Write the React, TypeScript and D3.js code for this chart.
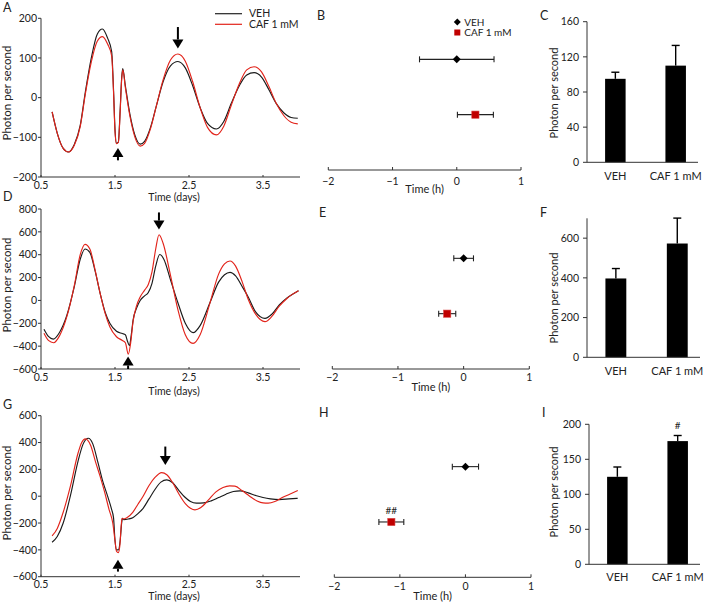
import React from "react";
import * as d3 from "d3";

const FONT = "Lato, 'Open Sans', 'DejaVu Sans', sans-serif";
const INK = "#222";
const LINE_RED = "#e2231a";
const MARK_RED = "#c00000";

const groups = ["VEH", "CAF 1 mM"];

// ---------- Time courses (days, photon per second) ----------
const tA = [0.65, 0.72, 0.8, 0.87, 0.95, 1.03, 1.1, 1.18, 1.26, 1.33, 1.4, 1.455, 1.48, 1.5, 1.52, 1.545, 1.57, 1.59, 1.605, 1.64, 1.7, 1.77, 1.84, 1.9, 1.98, 2.06, 2.15, 2.25, 2.35, 2.45, 2.55, 2.65, 2.75, 2.87, 2.97, 3.07, 3.18, 3.28, 3.38, 3.48, 3.58, 3.68, 3.78, 3.88, 3.97];
const vehA = [-36, -90, -128, -137, -118, -70, 15, 100, 160, 173, 150, 116, 20, -80, -115, -112, -30, 50, 73, 30, -40, -95, -117, -110, -75, -20, 40, 80, 91, 75, 30, -25, -65, -79, -60, -15, 30, 57, 63, 52, 20, -15, -38, -50, -52];
const cafA = [-36, -90, -128, -137, -120, -73, 10, 90, 142, 154, 135, 105, 15, -85, -116, -113, -35, 45, 70, 25, -45, -100, -122, -115, -78, -20, 45, 95, 110, 92, 40, -25, -75, -94, -72, -20, 35, 70, 78, 65, 28, -15, -45, -62, -66];

const tDveh = [0.54, 0.6, 0.666, 0.75, 0.85, 0.95, 1.03, 1.095, 1.16, 1.23, 1.3, 1.37, 1.43, 1.52, 1.6, 1.64, 1.67, 1.695, 1.72, 1.745, 1.79, 1.84, 1.9, 1.95, 2.0, 2.05, 2.105, 2.16, 2.25, 2.35, 2.45, 2.555, 2.65, 2.78, 2.9, 2.98, 3.054, 3.13, 3.22, 3.3, 3.4, 3.527, 3.62, 3.72, 3.82, 3.9, 3.98];
const vehD = [-253, -315, -338, -280, -130, 120, 360, 450, 420, 260, 60, -110, -200, -270, -290, -300, -360, -395, -300, -170, -70, 0, 40, 70, 150, 300, 402, 360, 180, -20, -200, -282, -220, -25, 160, 225, 246, 215, 120, 30, -100, -157, -120, -40, 20, 55, 85];
const tDcaf = [0.54, 0.6, 0.67, 0.75, 0.85, 0.95, 1.03, 1.095, 1.16, 1.23, 1.3, 1.37, 1.43, 1.52, 1.6, 1.64, 1.68, 1.71, 1.745, 1.79, 1.84, 1.9, 1.95, 2.0, 2.05, 2.095, 2.15, 2.25, 2.35, 2.45, 2.555, 2.65, 2.78, 2.9, 2.98, 3.054, 3.13, 3.22, 3.3, 3.4, 3.527, 3.62, 3.72, 3.82, 3.9, 3.98];
const cafD = [-288, -350, -370, -310, -140, 130, 400, 490, 450, 270, 60, -120, -230, -318, -350, -370, -470, -380, -180, -50, 30, 90, 140, 250, 450, 575, 500, 220, -80, -300, -376, -300, -30, 230, 320, 345, 300, 160, 10, -120, -186, -140, -50, 15, 55, 85];

const tGveh = [0.65, 0.72, 0.8, 0.9, 1.0, 1.07, 1.14, 1.2, 1.27, 1.33, 1.4, 1.455, 1.48, 1.5, 1.52, 1.545, 1.57, 1.59, 1.6, 1.62, 1.68, 1.74, 1.81, 1.88, 1.96, 2.04, 2.12, 2.2, 2.28, 2.36, 2.45, 2.52, 2.6, 2.7, 2.8, 2.9, 3.0, 3.1, 3.19, 3.3, 3.4, 3.5, 3.6, 3.72, 3.85, 3.97];
const vehG = [-343, -300, -200, 10, 260, 390, 432, 390, 250, 120, 0, -100, -160, -330, -400, -400, -330, -200, -165, -175, -170, -160, -130, -90, -20, 50, 105, 122, 100, 45, -10, -40, -52, -50, -35, -10, 15, 35, 40, 25, 5, -10, -20, -25, -20, -15];
const tGcaf = [0.65, 0.72, 0.8, 0.9, 1.0, 1.05, 1.1, 1.17, 1.24, 1.3, 1.36, 1.42, 1.47, 1.5, 1.52, 1.545, 1.565, 1.58, 1.595, 1.61, 1.66, 1.74, 1.81, 1.88, 1.96, 2.04, 2.13, 2.2, 2.28, 2.36, 2.45, 2.52, 2.58, 2.66, 2.76, 2.86, 2.96, 3.05, 3.12, 3.22, 3.32, 3.42, 3.5, 3.57, 3.66, 3.76, 3.86, 3.97];
const cafG = [-296, -240, -120, 80, 320, 400, 427, 380, 250, 146, 30, -100, -200, -330, -410, -420, -370, -250, -165, -170, -160, -120, -60, 0, 80, 140, 176, 160, 100, 20, -55, -90, -102, -85, -30, 30, 65, 77, 75, 40, 0, -35, -50, -52, -40, -10, 15, 42];

const dayTicks = [0.5, 1.5, 2.5, 3.5];
const ticksA = [-200, -100, 0, 100, 200];
const ticksD = [-600, -400, -200, 0, 200, 400, 600, 800];
const ticksG = [-600, -400, -200, 0, 200, 400, 600];

// arrows: [day, from value, to value]
const arrowsA = [[2.35, 178, 124], [1.54, -158, -127]];
const arrowsD = [[2.094, 770, 620], [1.677, -600, -490]];
const arrowsG = [[2.18, 370, 232], [1.54, -562, -474]];

// ---------- Phase (h) ----------
const phaseTicks = [-2, -1, 0, 1];
const phaseB = [0, 0.29];
const phaseErrB = [0.58, 0.28];
const phaseE = [0, -0.25];
const phaseErrE = [0.15, 0.13];
const phaseH = [0, -1.13];
const phaseErrH = [0.2, 0.19];

// ---------- Amplitude ----------
const ticksC = [0, 40, 80, 120, 160];
const ampC = [95, 110];
const ampErrC = [7.5, 23];
const ticksF = [0, 200, 400, 600];
const ampF = [397, 573];
const ampErrF = [50, 128];
const ticksI = [0, 50, 100, 150, 200];
const ampI = [125, 176];
const ampErrI = [14, 8];

const fmtNum = d3.format("");
const fmtDay = d3.format(".1f");

function Arrow({ x, y1, y2 }: { x: number; y1: number; y2: number }) {
  const dir = y2 > y1 ? 1 : -1;
  const head = 9;
  const hw = 5.5;
  const base = y2 - dir * head;
  return (
    <g>
      <line x1={x} x2={x} y1={y1} y2={base} stroke="#000" strokeWidth={2} />
      <path d={`M${x - hw},${base} L${x + hw},${base} L${x},${y2} Z`} fill="#000" />
    </g>
  );
}

function Letter({ x, y, t }: { x: number; y: number; t: string }) {
  return (
    <text x={x} y={y} fontSize={12.5} fill={INK} fontFamily={FONT}>
      {t}
    </text>
  );
}

function LinePanel({ L, yDomain, yTicks, series, arrows, legend }: any) {
  const x = d3.scaleLinear().domain([0.5, 4]).range([L.x0, L.x1]);
  const y = d3.scaleLinear().domain(yDomain).range([L.yb, L.yt]);
  const line = d3
    .line<[number, number]>()
    .x((d) => x(d[0]))
    .y((d) => y(d[1]))
    .curve(d3.curveMonotoneX);
  return (
    <g fontFamily={FONT} fill={INK}>
      <line x1={L.x0} x2={L.x0} y1={L.yt} y2={L.yb} stroke="#333" />
      <line x1={L.x0} x2={L.x1} y1={L.yb} y2={L.yb} stroke="#333" />
      {yTicks.map((v: number) => (
        <g key={v}>
          <line x1={L.x0 - 3} x2={L.x0} y1={y(v)} y2={y(v)} stroke="#333" />
          <text x={L.x0 - 4} y={y(v)} dy="0.35em" textAnchor="end" fontSize={10.5}>
            {fmtNum(v)}
          </text>
        </g>
      ))}
      {dayTicks.map((v) => (
        <g key={v}>
          <line x1={x(v)} x2={x(v)} y1={L.yb} y2={L.yb - 2} stroke="#333" />
          <text x={x(v)} y={L.tickBase} textAnchor="middle" fontSize={10.5}>
            {fmtDay(v)}
          </text>
        </g>
      ))}
      <text x={(L.x0 + L.x1) / 2 + 3.5} y={L.titleBase} textAnchor="middle" fontSize={10.5}>
        Time (days)
      </text>
      <text
        transform={`translate(${L.ylx},${L.yly}) rotate(-90)`}
        textAnchor="middle"
        fontSize={11.5}
      >
        Photon per second
      </text>
      {series.map((s: any, i: number) => (
        <path
          key={i}
          d={line(s.t.map((t: number, j: number) => [t, s.v[j]]) as any) || ""}
          fill="none"
          stroke={s.color}
          strokeWidth={1.15}
        />
      ))}
      {arrows.map((a: number[], i: number) => (
        <Arrow key={i} x={x(a[0])} y1={y(a[1])} y2={y(a[2])} />
      ))}
      {legend && (
        <g>
          {groups.map((g, i) => (
            <g key={g}>
              <line
                x1={legend.x}
                x2={legend.x + 27}
                y1={legend.y + i * 10.6}
                y2={legend.y + i * 10.6}
                stroke={i === 0 ? "#222" : LINE_RED}
                strokeWidth={1.2}
              />
              <text x={legend.x + 34} y={legend.y + i * 10.6} dy="0.35em" fontSize={10.5}>
                {g}
              </text>
            </g>
          ))}
        </g>
      )}
    </g>
  );
}

function PhasePanel({ P, vals, errs, legend, mark }: any) {
  const x = d3.scaleLinear().domain([-2, 1]).range([P.x0, P.x1]);
  const y = d3.scalePoint().domain(groups).range([P.axis - 166, P.axis]).padding(1);
  return (
    <g fontFamily={FONT} fill={INK}>
      <line x1={P.x0} x2={P.x1} y1={P.axis} y2={P.axis} stroke="#333" />
      {phaseTicks.map((v) => (
        <g key={v}>
          <line x1={x(v)} x2={x(v)} y1={P.axis} y2={P.axis - 3} stroke="#333" />
          <text x={x(v)} y={P.tickBase} textAnchor="middle" fontSize={10.5}>
            {fmtNum(v)}
          </text>
        </g>
      ))}
      <text x={(P.x0 + P.x1) / 2} y={P.titleBase} textAnchor="middle" fontSize={11}>
        Time (h)
      </text>
      {groups.map((g, i) => {
        const cy = y(g) as number;
        const cx = x(vals[i]);
        const l = x(vals[i] - errs[i]);
        const r = x(vals[i] + errs[i]);
        return (
          <g key={g}>
            <line x1={l} x2={r} y1={cy} y2={cy} stroke="#222" strokeWidth={1.1} />
            <line x1={l} x2={l} y1={cy - 3} y2={cy + 3} stroke="#222" strokeWidth={1.1} />
            <line x1={r} x2={r} y1={cy - 3} y2={cy + 3} stroke="#222" strokeWidth={1.1} />
            {i === 0 ? (
              <path d={`M${cx},${cy - 4} L${cx + 4},${cy} L${cx},${cy + 4} L${cx - 4},${cy} Z`} fill="#000" />
            ) : (
              <rect x={cx - 3.6} y={cy - 3.6} width={7.2} height={7.2} fill={MARK_RED} stroke="#d84040" strokeWidth={0.6} />
            )}
            {i === 1 && mark && (
              <text x={cx} y={cy - 8} textAnchor="middle" fontSize={10}>
                {mark}
              </text>
            )}
          </g>
        );
      })}
      {legend && (
        <g>
          <path
            d={`M${legend.x},${legend.y - 3.5} L${legend.x + 3.5},${legend.y} L${legend.x},${legend.y + 3.5} L${legend.x - 3.5},${legend.y} Z`}
            fill="#000"
          />
          <text x={legend.x + 7} y={legend.y} dy="0.35em" fontSize={10}>
            {groups[0]}
          </text>
          <rect x={legend.x - 3} y={legend.y + 10.5 - 3} width={6} height={6} fill={MARK_RED} />
          <text x={legend.x + 7} y={legend.y + 10.5} dy="0.35em" fontSize={10}>
            {groups[1]}
          </text>
        </g>
      )}
    </g>
  );
}

function BarPanel({ B, domain, ticks, vals, errs, mark }: any) {
  const x = d3.scaleBand().domain(groups).range([B.x0, B.x1]).paddingInner(0.66).paddingOuter(0.25).align(0.6);
  const y = d3.scaleLinear().domain(domain).range([B.yb, B.yt]);
  const bw = x.bandwidth();
  return (
    <g fontFamily={FONT} fill={INK}>
      {groups.map((g, i) => {
        const left = x(g) as number;
        const cx = left + bw / 2;
        const top = y(vals[i]);
        const et = y(vals[i] + errs[i]);
        return (
          <g key={g}>
            <rect x={left} y={top} width={bw} height={B.yb - top} fill="#000" />
            <line x1={cx} x2={cx} y1={top} y2={et} stroke="#000" strokeWidth={1.4} />
            <line x1={cx - 4} x2={cx + 4} y1={et} y2={et} stroke="#000" strokeWidth={1.4} />
            <text x={cx} y={B.catBase} textAnchor="middle" fontSize={11}>
              {g}
            </text>
            {i === 1 && mark && (
              <text x={cx} y={et - 7} textAnchor="middle" fontSize={10}>
                {mark}
              </text>
            )}
          </g>
        );
      })}
      <line x1={B.x0} x2={B.x0} y1={B.yt} y2={B.yb} stroke="#333" />
      <line x1={B.x0} x2={B.x1} y1={B.yb} y2={B.yb} stroke="#333" />
      {ticks.map((v: number) => (
        <g key={v}>
          <line x1={B.x0 - 4} x2={B.x0} y1={y(v)} y2={y(v)} stroke="#333" />
          <text x={B.x0 - 8} y={y(v)} dy="0.35em" textAnchor="end" fontSize={10.5}>
            {fmtNum(v)}
          </text>
        </g>
      ))}
      <text transform={`translate(558,${B.yly}) rotate(-90)`} textAnchor="middle" fontSize={11}>
        Photon per second
      </text>
    </g>
  );
}

export default function App() {
  return (
    <svg
      width={709}
      height={604}
      style={{ position: "absolute", left: 0, top: 0, background: "#fff" }}
    >
      <rect width={709} height={604} fill="#fff" />
      {/* Row 1 */}
      <LinePanel
        L={{ x0: 41, x1: 300, yb: 177, yt: 18.3, tickBase: 189, titleBase: 200.5, ylx: 11, yly: 93 }}
        yDomain={[-200, 200]}
        yTicks={ticksA}
        series={[
          { t: tA, v: vehA, color: "#1a1a1a" },
          { t: tA, v: cafA, color: LINE_RED },
        ]}
        arrows={arrowsA}
        legend={{ x: 215, y: 13.7 }}
      />
      <PhasePanel
        P={{ x0: 328.3, x1: 521, axis: 170, tickBase: 185, titleBase: 193 }}
        vals={phaseB}
        errs={phaseErrB}
        legend={{ x: 457.3, y: 22 }}
      />
      <BarPanel
        B={{ x0: 587, x1: 698, yb: 162.3, yt: 21.7, catBase: 180, yly: 93 }}
        domain={[0, 160]}
        ticks={ticksC}
        vals={ampC}
        errs={ampErrC}
      />
      {/* Row 2 */}
      <LinePanel
        L={{ x0: 41, x1: 300, yb: 369, yt: 209, tickBase: 381, titleBase: 395, ylx: 11, yly: 285 }}
        yDomain={[-600, 800]}
        yTicks={ticksD}
        series={[
          { t: tDveh, v: vehD, color: "#1a1a1a" },
          { t: tDcaf, v: cafD, color: LINE_RED },
        ]}
        arrows={arrowsD}
      />
      <PhasePanel
        P={{ x0: 332.3, x1: 529.3, axis: 369, tickBase: 381, titleBase: 391 }}
        vals={phaseE}
        errs={phaseErrE}
      />
      <BarPanel
        B={{ x0: 587, x1: 700, yb: 357.3, yt: 218.3, catBase: 375, yly: 298 }}
        domain={[0, 700]}
        ticks={ticksF}
        vals={ampF}
        errs={ampErrF}
      />
      {/* Row 3 */}
      <LinePanel
        L={{ x0: 41, x1: 300, yb: 576.7, yt: 415.7, tickBase: 588, titleBase: 600, ylx: 11, yly: 493 }}
        yDomain={[-600, 600]}
        yTicks={ticksG}
        series={[
          { t: tGveh, v: vehG, color: "#1a1a1a" },
          { t: tGcaf, v: cafG, color: LINE_RED },
        ]}
        arrows={arrowsG}
      />
      <PhasePanel
        P={{ x0: 334.3, x1: 531, axis: 577.3, tickBase: 590, titleBase: 600 }}
        vals={phaseH}
        errs={phaseErrH}
        mark="##"
      />
      <BarPanel
        B={{ x0: 589, x1: 700, yb: 564.3, yt: 424.3, catBase: 581, yly: 492 }}
        domain={[0, 200]}
        ticks={ticksI}
        vals={ampI}
        errs={ampErrI}
        mark="#"
      />
      <Letter x={3} y={12} t="A" />
      <Letter x={317} y={20} t="B" />
      <Letter x={540} y={20} t="C" />
      <Letter x={3} y={201} t="D" />
      <Letter x={319} y={217} t="E" />
      <Letter x={540} y={217} t="F" />
      <Letter x={3} y={409} t="G" />
      <Letter x={319} y={417} t="H" />
      <Letter x={542} y={417} t="I" />
    </svg>
  );
}
